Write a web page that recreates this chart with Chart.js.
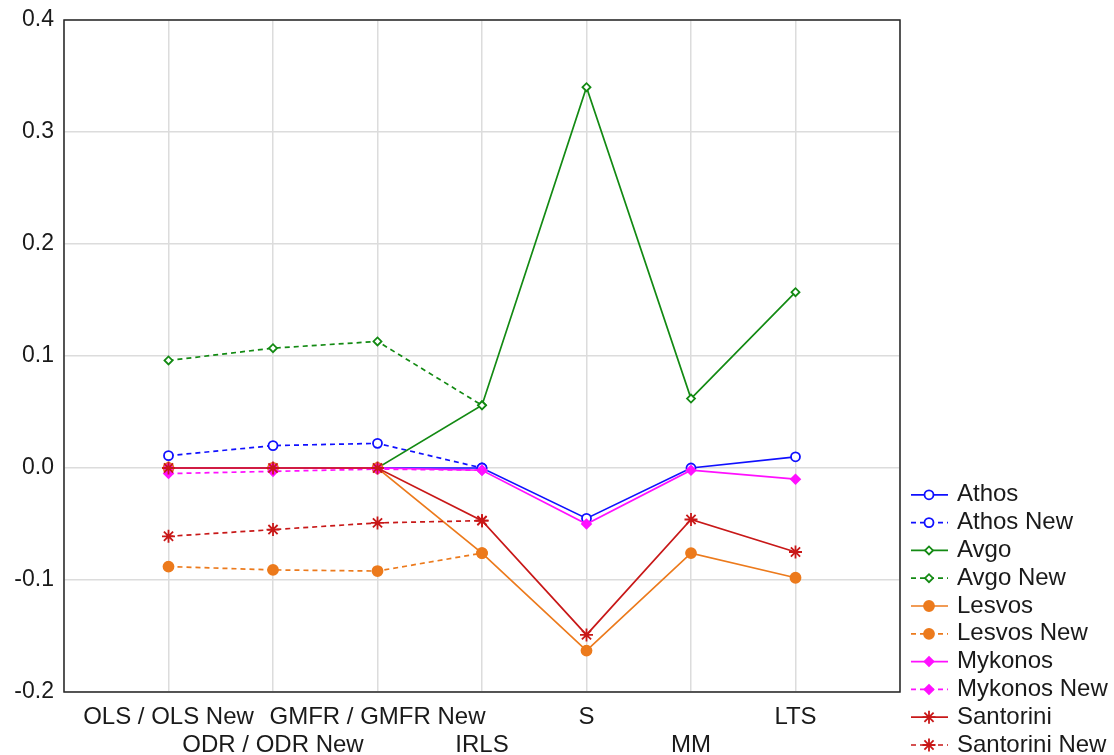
<!DOCTYPE html>
<html>
<head>
<meta charset="utf-8">
<script src="https://cdn.jsdelivr.net/npm/chart.js@4/dist/chart.umd.min.js"></script>
<style>
  html, body { margin: 0; padding: 0; background: #fff; }
  #wrap { width: 1114px; height: 755px; }
</style>
</head>
<body>
<div id="wrap"><canvas id="regChart"></canvas></div>
<script>
// categories along the x axis (regression methods)
const methods = ['OLS / OLS New', 'ODR / ODR New', 'GMFR / GMFR New', 'IRLS', 'S', 'MM', 'LTS'];
const yTicks = [-0.2, -0.1, 0.0, 0.1, 0.2, 0.3, 0.4];

// values
const athos        = [0, 0, 0, 0.000, -0.045, 0.000, 0.010];
const athosNew     = [0.011, 0.020, 0.022, 0.000];
const avgo         = [0, 0, 0, 0.056, 0.340, 0.062, 0.157];
const avgoNew      = [0.096, 0.107, 0.113, 0.056];
const lesvos       = [0, 0, 0, -0.076, -0.163, -0.076, -0.098];
const lesvosNew    = [-0.088, -0.091, -0.092, -0.076];
const mykonos      = [0, 0, 0, -0.002, -0.050, -0.002, -0.010];
const mykonosNew   = [-0.005, -0.003, -0.001, -0.002];
const santorini    = [0, 0, 0, -0.047, -0.149, -0.046, -0.075];
const santoriniNew = [-0.061, -0.055, -0.049, -0.047];

const FONT = '"Liberation Sans", Arial, sans-serif';

// x position of each method is its index + 1 (axis runs 0..8)
function toPoints(values) {
    return values.map((v, i) => ({ x: i + 1, y: v }));
}

function series(label, values, color, style, radius, filled, dashed) {
    return {
        label: label,
        data: toPoints(values),
        borderColor: color,
        backgroundColor: color,
        borderWidth: 1.7,
        borderDash: dashed ? [5, 4] : [],
        pointStyle: style,
        pointRadius: radius,
        pointHoverRadius: radius,
        pointBorderWidth: 1.8,
        pointBorderColor: color,
        pointBackgroundColor: filled ? color : '#ffffff',
        tension: 0
    };
}

const datasets = [
    series('Athos', athos, '#1010ff', 'circle', 4.5, false, false),
    series('Athos New', athosNew, '#1010ff', 'circle', 4.5, false, true),
    series('Avgo', avgo, '#138a13', 'rectRot', 4, false, false),
    series('Avgo New', avgoNew, '#138a13', 'rectRot', 4, false, true),
    series('Lesvos', lesvos, '#ec7a1c', 'circle', 5, true, false),
    series('Lesvos New', lesvosNew, '#ec7a1c', 'circle', 5, true, true),
    series('Mykonos', mykonos, '#ff10ff', 'rectRot', 4.5, true, false),
    series('Mykonos New', mykonosNew, '#ff10ff', 'rectRot', 4.5, true, true),
    series('Santorini', santorini, '#c81818', 'star', 6.5, false, false),
    series('Santorini New', santoriniNew, '#c81818', 'star', 6.5, false, true)
];
// later series drawn on top
datasets.forEach((d, i) => { d.order = datasets.length - i; });

// box round the plot area
const plotFrame = {
    id: 'plotFrame',
    afterDraw(chart) {
        const a = chart.chartArea;
        const ctx = chart.ctx;
        ctx.save();
        ctx.strokeStyle = '#262626';
        ctx.lineWidth = 1.5;
        ctx.strokeRect(a.left, a.top, a.right - a.left, a.bottom - a.top);
        ctx.restore();
    }
};

// legend with line + marker samples, bottom right
const sideLegend = {
    id: 'sideLegend',
    afterDraw(chart) {
        const ctx = chart.ctx;
        const sets = chart.data.datasets;
        const rowH = 27.8;
        const x0 = chart.chartArea.right + 11;
        const y0 = chart.height - 10 - rowH * (sets.length - 1);
        ctx.save();
        ctx.font = '24px ' + FONT;
        ctx.textBaseline = 'middle';
        ctx.textAlign = 'left';
        sets.forEach((ds, i) => {
            const y = y0 + i * rowH;
            ctx.strokeStyle = ds.borderColor;
            ctx.lineWidth = ds.borderWidth;
            ctx.setLineDash(ds.borderDash);
            ctx.beginPath();
            ctx.moveTo(x0, y);
            ctx.lineTo(x0 + 37, y);
            ctx.stroke();
            ctx.setLineDash([]);
            ctx.fillStyle = ds.pointBackgroundColor;
            ctx.strokeStyle = ds.pointBorderColor;
            ctx.lineWidth = ds.pointBorderWidth;
            Chart.helpers.drawPoint(ctx, {
                pointStyle: ds.pointStyle,
                radius: ds.pointRadius,
                borderWidth: ds.pointBorderWidth,
                rotation: 0
            }, x0 + 18, y);
            ctx.fillStyle = '#1a1a1a';
            ctx.fillText(ds.label, x0 + 46, y);
        });
        ctx.restore();
    }
};

new Chart(document.getElementById('regChart'), {
    type: 'line',
    data: { datasets: datasets },
    options: {
        responsive: true,
        maintainAspectRatio: false,
        animation: false,
        layout: { padding: { top: 20, right: 214, left: 0, bottom: 0 } },
        plugins: {
            legend: { display: false },
            tooltip: { enabled: false }
        },
        scales: {
            x: {
                type: 'linear',
                min: 0,
                max: methods.length + 1,
                afterBuildTicks: axis => {
                    axis.ticks = [];
                    for (let i = 0; i <= methods.length + 1; i++) axis.ticks.push({ value: i });
                },
                afterFit: axis => {
                    axis.height = 63;
                    axis.paddingLeft = 0;
                    axis.paddingRight = 0;
                },
                grid: { color: '#dcdcdc', lineWidth: 1.5, drawTicks: false },
                border: { display: false },
                ticks: {
                    autoSkip: false,
                    maxRotation: 0,
                    minRotation: 0,
                    padding: 12,
                    color: '#1a1a1a',
                    font: { family: FONT, size: 24, lineHeight: 1.15 },
                    callback: value => {
                        const name = methods[value - 1];
                        if (!name) return '';
                        // alternate rows so the long names do not collide
                        return (value - 1) % 2 === 0 ? [name, ''] : ['', name];
                    }
                }
            },
            y: {
                min: yTicks[0],
                max: yTicks[yTicks.length - 1],
                afterBuildTicks: axis => {
                    axis.ticks = yTicks.map(v => ({ value: v }));
                },
                afterFit: axis => {
                    axis.width = 64;
                    axis.paddingTop = 0;
                    axis.paddingBottom = 0;
                },
                grid: { color: '#dcdcdc', lineWidth: 1.5, drawTicks: false },
                border: { display: false },
                ticks: {
                    padding: 10,
                    color: '#1a1a1a',
                    font: { family: FONT, size: 23 },
                    callback: value => value.toFixed(1)
                }
            }
        }
    },
    plugins: [plotFrame, sideLegend]
});
</script>
</body>
</html>
